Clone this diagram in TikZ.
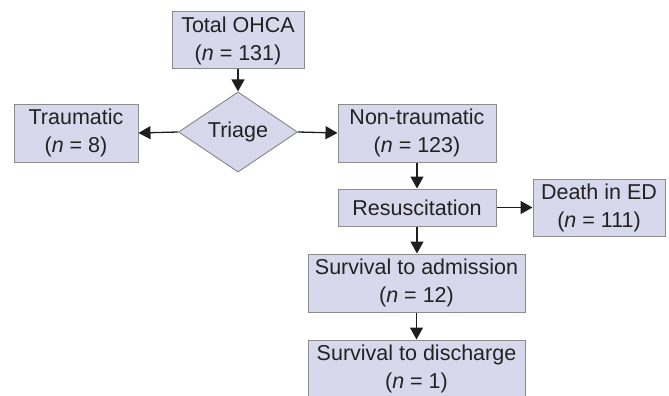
\documentclass[tikz,border=0pt]{standalone}
\usepackage{fontspec}
\setmainfont{Liberation Sans}
\usetikzlibrary{shapes.geometric,arrows.meta}
\definecolor{boxfill}{HTML}{D7D8EC}
\definecolor{boxline}{HTML}{8C8C8C}
\definecolor{arrowc}{HTML}{1E1E1E}
\definecolor{txt}{HTML}{222222}
\begin{document}
\begin{tikzpicture}[x=1pt,y=-1pt,
  box/.style={draw=boxline,line width=1pt,fill=boxfill,inner sep=0pt,align=center,
    text=txt,font=\fontsize{21.5}{28}\selectfont},
  dia/.style={diamond,draw=boxline,line width=1pt,fill=boxfill,inner sep=0pt,
    text=txt,font=\fontsize{21.5}{28}\selectfont,minimum width=119pt,minimum height=63pt},
  arr/.style={draw=arrowc,line width=1.3pt,-{Triangle[length=12pt,width=13pt]}}]
\useasboundingbox (0,0) rectangle (669,396);
\node[box,minimum width=132pt,minimum height=57pt] (total) at (238,40.5) {Total OHCA\\(\textit{n} = 131)};
\node[dia] (triage) at (238,132) {Triage};
\node[box,minimum width=124pt,minimum height=58pt] (traum) at (76,133) {Traumatic\\(\textit{n} = 8)};
\node[box,minimum width=158pt,minimum height=58pt] (nontraum) at (417,133) {Non-traumatic\\(\textit{n} = 123)};
\node[box,minimum width=158pt,minimum height=37pt] (resus) at (417,207.5) {Resuscitation};
\node[box,minimum width=132pt,minimum height=57pt] (death) at (599,207.5) {Death in ED\\(\textit{n} = 111)};
\node[box,minimum width=217pt,minimum height=58pt] (adm) at (416.5,283) {Survival to admission\\(\textit{n} = 12)};
\node[box,minimum width=217pt,minimum height=57pt] (dis) at (416.5,368.5) {Survival to discharge\\(\textit{n} = 1)};
\draw[arr] (total.south) -- (triage.north);
\draw[arr] (triage.west) -- (traum.east);
\draw[arr] (triage.east) -- (nontraum.west);
\draw[arr] (nontraum.south) -- (resus.north);
\draw[arr] (resus.east) -- (death.west);
\draw[arr] (resus.south) -- (resus.south |- adm.north);
\draw[arr] (adm.south) -- (dis.north);
\end{tikzpicture}
\end{document}
